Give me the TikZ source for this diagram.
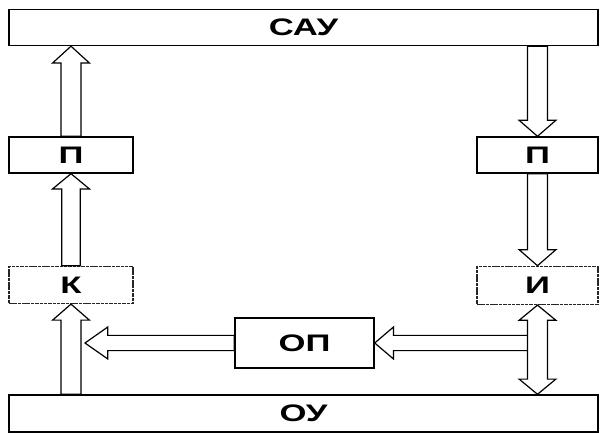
\documentclass[tikz,border=0pt]{standalone}
\usepackage{fontspec}
\newfontfamily\labelfont{Liberation Sans}[FakeStretch=1.45]
\usetikzlibrary{positioning,calc}

% hollow block arrow: start, end, shaft half width, head half width, head length
\newcommand\fatarrow[5]{%
  \coordinate (fa) at (#1);
  \coordinate (fz) at (#2);
  \coordinate (fb) at ($(fz)!#5!(fa)$);
  \draw[fat] ($(fa)!#3!90:(fb)$) -- ($(fb)!#3!-90:(fa)$) -- ($(fb)!#4!-90:(fa)$) -- (fz)
    -- ($(fb)!#4!90:(fa)$) -- ($(fb)!#3!90:(fa)$) -- ($(fa)!#3!-90:(fb)$) -- cycle;
}
% same with a head at both ends
\newcommand\fatdarrow[5]{%
  \coordinate (fa) at (#1);
  \coordinate (fz) at (#2);
  \coordinate (fb) at ($(fz)!#5!(fa)$);
  \coordinate (fc) at ($(fa)!#5!(fz)$);
  \draw[fat] (fa) -- ($(fc)!#4!90:(fz)$) -- ($(fc)!#3!90:(fz)$) -- ($(fb)!#3!-90:(fa)$)
    -- ($(fb)!#4!-90:(fa)$) -- (fz) -- ($(fb)!#4!90:(fa)$) -- ($(fb)!#3!90:(fa)$)
    -- ($(fc)!#3!-90:(fz)$) -- ($(fc)!#4!-90:(fz)$) -- cycle;
}

\begin{document}
\begin{tikzpicture}[line width=1pt,
    box/.style={draw,rectangle,minimum height=0.9cm,inner sep=0pt,
      font=\labelfont\bfseries\fontsize{17}{17}\selectfont},
    wide box/.style={box,minimum width=14.725cm},
    small box/.style={box,minimum width=3.1cm},
    faint box/.style={small box,draw=black!85,dash pattern=on 2.5pt off 0.6pt},
    fat/.style={draw,fill=white,line width=0.85pt,line join=miter}]

  \useasboundingbox (0,0) rectangle (15,-10.825);

  \node[wide box] (sau) at (7.5875,-0.6875) {САУ};
  \node[wide box,minimum height=0.925cm] (ou) at (7.5875,-10.3375) {ОУ};
  \node[small box] (lp) at (1.775,-3.875) {П};
  \node[faint box,minimum height=0.925cm] (k) [below=2.3cm of lp] {К};
  \node[small box,minimum width=3.025cm] (rp) at (13.4375,-3.875) {П};
  \node[faint box,minimum width=3.025cm,minimum height=0.95cm] (i) [below=2.3cm of rp] {И};
  \node[box,minimum width=3.475cm,minimum height=1.25cm] (op) at (7.6125,-8.575) {ОП};

  \coordinate (lj) at ($(op.west -| k.south)+(0.35cm,0)$);
  \coordinate (rj) at (op.east -| i.south);

  % left branch, going up
  \fatarrow{k.south |- ou.north}{k.south}{0.25cm}{0.46cm}{0.4cm}
  \fatarrow{k.north}{lp.south}{0.23cm}{0.46cm}{0.38cm}
  \fatarrow{lp.north}{lp.north |- sau.south}{0.25cm}{0.46cm}{0.42cm}
  % right branch, going down
  \fatarrow{rp.north |- sau.south}{rp.north}{0.25cm}{0.46cm}{0.4cm}
  \fatarrow{rp.south}{i.north}{0.25cm}{0.46cm}{0.4cm}
  % to and from ОП
  \fatarrow{rj}{op.east}{0.19cm}{0.4cm}{0.47cm}
  \fatarrow{op.west}{lj}{0.19cm}{0.4cm}{0.57cm}
  \fatdarrow{i.south}{i.south |- ou.north}{0.25cm}{0.46cm}{0.38cm}
\end{tikzpicture}
\end{document}
